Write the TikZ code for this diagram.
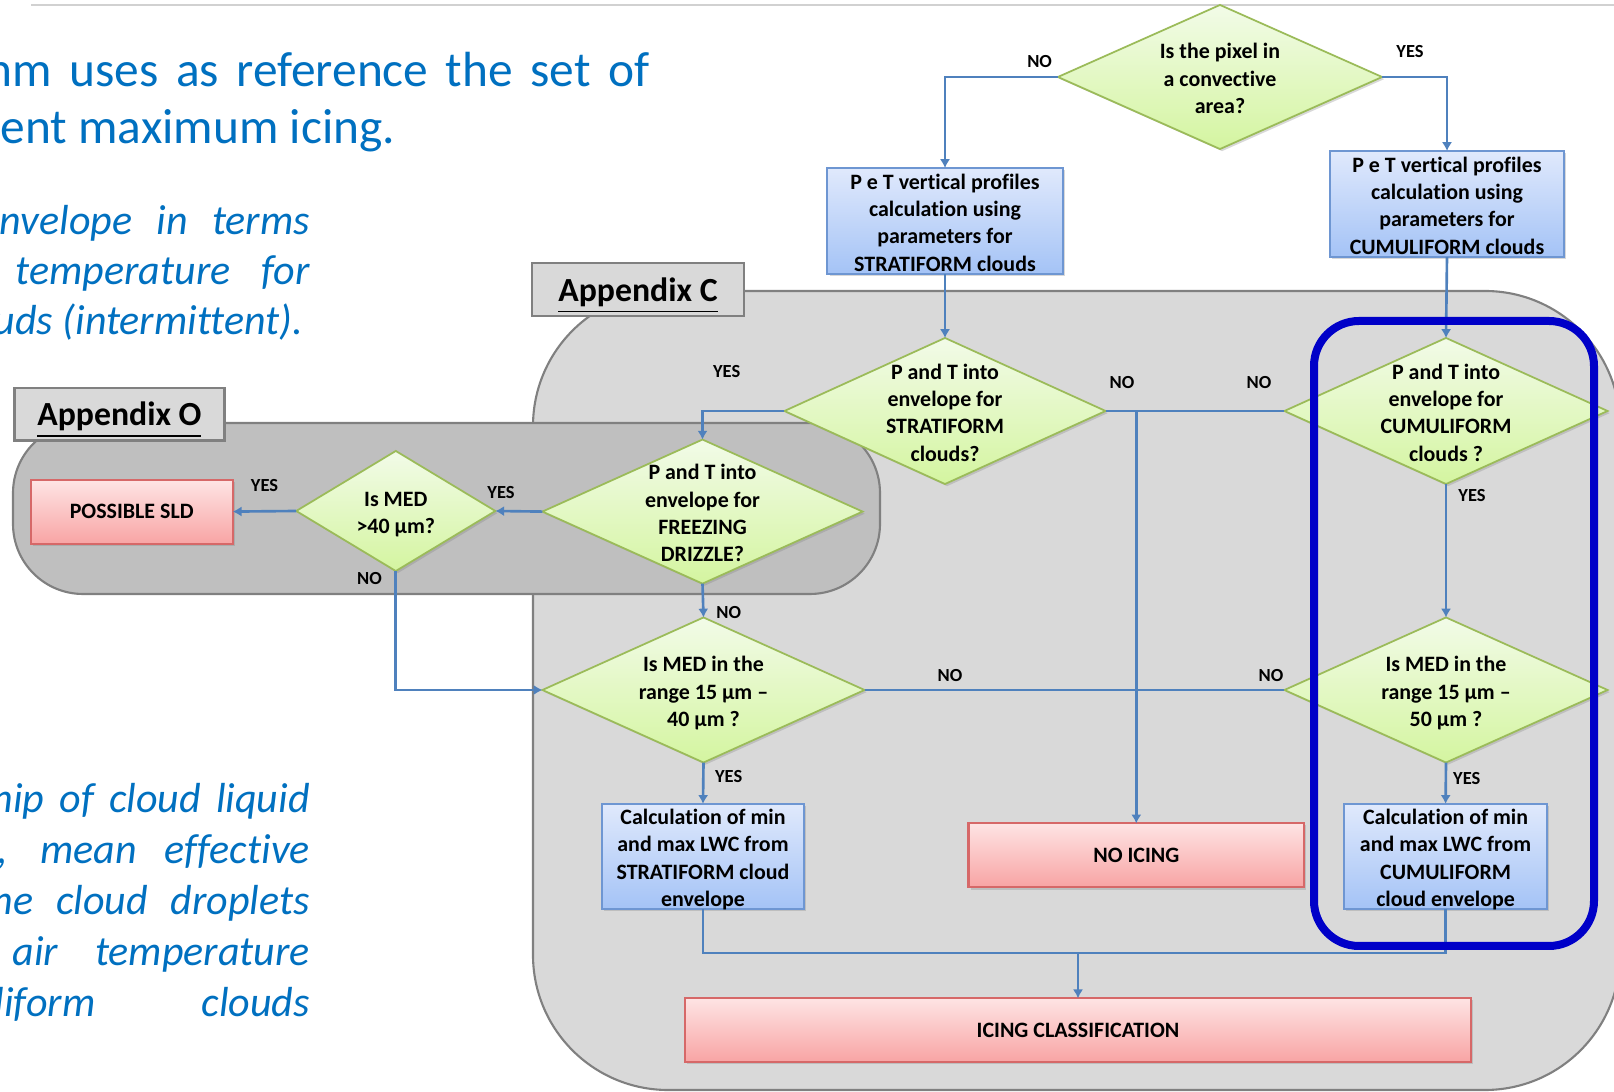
\documentclass[tikz,border=0pt]{standalone}
\usepackage{fontspec}
\setmainfont{Carlito}[Ligatures={NoCommon}, RawFeature={-liga;-dlig}]
\usepackage{tikz}
\usetikzlibrary{shapes.geometric}
\usetikzlibrary{arrows.meta}
\usetikzlibrary{shadows}
\definecolor{lnblue}{RGB}{79,129,189}
\definecolor{dgreen}{RGB}{155,187,89}
\definecolor{gtop}{RGB}{242,251,232}
\definecolor{gbot}{RGB}{212,245,160}
\definecolor{btop}{RGB}{224,233,252}
\definecolor{bbot}{RGB}{164,195,246}
\definecolor{bdraw}{RGB}{110,150,210}
\definecolor{rtop}{RGB}{254,228,228}
\definecolor{rbot}{RGB}{248,164,164}
\definecolor{rdraw}{RGB}{214,104,104}
\definecolor{apC}{RGB}{217,217,217}
\definecolor{apO}{RGB}{191,191,191}
\definecolor{apline}{RGB}{128,128,128}
\definecolor{txtblue}{RGB}{0,112,192}
\definecolor{hlblue}{RGB}{0,0,200}
\newcommand{\nodefont}{\fontsize{6.24}{7.8}\selectfont\bfseries}
\newcommand{\labfont}{\fontsize{5.25}{6}\selectfont\bfseries}
\newcommand{\ml}[2][2.55pt]{\makebox[0pt]{\smash{\raisebox{-#1}{\begin{tabular}{@{}c@{}}#2\end{tabular}}}}}
\tikzset{shd/.style = {drop shadow={shadow xshift=0.6pt, shadow yshift=-0.6pt, opacity=0.3}}}
\tikzset{dia/.style = {diamond, draw=dgreen, line width=0.5pt, top color=gtop, bottom color=gbot,
    inner sep=0, outer sep=0, font=\nodefont, shd}}
\tikzset{pbox/.style = {rectangle, draw=bdraw, line width=0.6pt, top color=btop, bottom color=bbot,
    inner sep=0, outer sep=0, font=\nodefont, shd}}
\tikzset{rbox/.style = {rectangle, draw=rdraw, line width=0.6pt, top color=rtop, bottom color=rbot,
    inner sep=0, outer sep=0, font=\nodefont, shd}}
\tikzset{tag/.style = {rectangle, draw=apline, line width=0.7pt, fill=apC, inner sep=0,
    font=\fontsize{9.6}{11}\selectfont\bfseries}}
\tikzset{lab/.style = {inner sep=0, font=\labfont}}
\tikzset{conn/.style = {draw=lnblue, line width=0.75pt}}
\tikzset{arr/.style = {conn, -{Latex[length=2.5pt, width=2.9pt]}}}
\tikzset{para/.style = {inner sep=0, text=txtblue, anchor=base west}}

\begin{document}
\begin{tikzpicture}[x=0.01cm, y=-0.01cm]
    \useasboundingbox (0,0) rectangle (1614,1092);
    \clip (0,0) rectangle (1614,1092);
    \fill [white] (0,0) rectangle (1614,1092);
    \draw [black!18, line width=0.6pt] (31,5) -- (1614,5);

    % text on the left, cut by the page edge
    \begin{scope}[font=\fontsize{14.05}{16}\selectfont]
      \node [para] (p1) at (-14,87) {\makebox[6.62cm][s]{hm uses as reference the set of}};
      \node [para, anchor=base east] (p2) at (396,144) {ent maximum icing.};
    \end{scope}
    \begin{scope}[font=\fontsize{11.95}{14}\selectfont\itshape]
      \node [para] (p3) at (-1,235) {\makebox[3.10cm][s]{nvelope in terms}};
      \node [para] (p4) at (15,285) {\makebox[2.94cm][s]{temperature for}};
      \node [para, anchor=base east] (p5) at (304,335) {uds (intermittent).};
      \node [para] (p6) at (-9,813) {\makebox[3.18cm][s]{hip of cloud liquid}};
      \node [para] (p7) at (-3,864) {\makebox[3.12cm][s]{, mean effective}};
      \node [para] (p8) at (-9,915) {\makebox[3.18cm][s]{he cloud droplets}};
      \node [para] (p9) at (12,966) {\makebox[2.97cm][s]{air temperature}};
      \node [para] (p10) at (-6,1017) {\makebox[3.15cm][s]{liform clouds}};
    \end{scope}

    % appendix areas
    \draw [fill=apC, draw=apline, line width=0.6pt, rounded corners=1.35cm] (533,291) rectangle (1620,1090);
    \node [tag, minimum width=2.12cm, minimum height=0.53cm] (tagC) at (638,289.5) {\ml[3.7pt]{\underline{Appendix C}}};
    \draw [fill=apO, draw=apline, line width=0.6pt, rounded corners=0.7cm] (13,423) rectangle (880,594);
    \node [tag, minimum width=2.10cm, minimum height=0.525cm] (tagO) at (119.4,414.3) {\ml[3.7pt]{\underline{Appendix O}}};

    \node [dia, minimum width=3.24cm, minimum height=1.44cm] (conv) at (1220,77) {\ml{Is the pixel in\\a convective\\area?}};
    \node [pbox, minimum width=2.35cm, minimum height=1.06cm] (profS) at (945,221) {\ml{P e T vertical profiles\\calculation using\\parameters for\\STRATIFORM clouds}};
    \node [pbox, minimum width=2.34cm, minimum height=1.06cm] (profC) at (1447,204) {\ml{P e T vertical profiles\\calculation using\\parameters for\\CUMULIFORM clouds}};
    \node [dia, minimum width=3.21cm, minimum height=1.46cm] (envS) at (945,411) {\ml{P and T into\\envelope for\\STRATIFORM\\clouds?}};
    \node [dia, minimum width=3.23cm, minimum height=1.46cm] (envC) at (1446,411) {\ml{P and T into\\envelope for\\CUMULIFORM\\clouds ?}};
    \node [dia, minimum width=3.20cm, minimum height=1.44cm] (envFZ) at (702.5,511.6) {\ml{P and T into\\envelope for\\FREEZING\\DRIZZLE?}};
    \node [dia, minimum width=1.99cm, minimum height=1.20cm] (med40) at (395.8,511) {\ml{Is MED\\>40 µm?}};
    \node [rbox, minimum width=2.02cm, minimum height=0.64cm] (sld) at (131.7,511.6) {POSSIBLE SLD};
    \node [dia, minimum width=3.22cm, minimum height=1.45cm] (rngS) at (703.5,690) {\ml{Is MED in the\\range 15 µm –\\40 µm ?}};
    \node [dia, minimum width=3.23cm, minimum height=1.45cm] (rngC) at (1446,690) {\ml{Is MED in the\\range 15 µm –\\50 µm ?}};
    \node [pbox, minimum width=2.02cm, minimum height=1.05cm] (lwcS) at (703,856.4) {\ml{Calculation of min\\and max LWC from\\STRATIFORM cloud\\envelope}};
    \node [pbox, minimum width=2.03cm, minimum height=1.05cm] (lwcC) at (1445.6,856.4) {\ml{Calculation of min\\and max LWC from\\CUMULIFORM\\cloud envelope}};
    \node [rbox, minimum width=3.355cm, minimum height=0.64cm] (noice) at (1136.3,855.4) {NO ICING};
    \node [rbox, minimum width=7.85cm, minimum height=0.64cm] (icecls) at (1078,1030.3) {ICING CLASSIFICATION};
    \coordinate (merge) at (1078,953);

    \draw [arr] (conv.west) -| (profS.north);
    \draw [arr] (conv.east) -| (profC.north);
    \draw [arr] (profS.south) -- (envS.north);
    \draw [arr] (profC.south) -- (envC.north);
    \draw [arr] (envS.west) -| (envFZ.north);
    \draw [conn] (envS.east) -- (envC.west);
    \draw [arr] (envS.east -| noice.north) -- (noice.north);
    \draw [arr] (envFZ.west) -- (med40.east);
    \draw [arr] (med40.west) -- (sld.east);
    \draw [arr] (med40.south) |- (rngS.west);
    \draw [arr] (envFZ.south) -- (rngS.north);
    \draw [arr] (envC.south) -- (rngC.north);
    \draw [conn] (rngS.east) -- (rngC.west);
    \draw [arr] (rngS.south) -- (lwcS.north);
    \draw [arr] (rngC.south) -- (lwcC.north);
    \draw [conn] (lwcS.south) |- (merge) -| (lwcC.south);
    \draw [arr] (merge) -- (icecls.north);

    \node [lab] (t1) at (1039.6,61.8) {NO};
    \node [lab] (t2) at (1410,51.5) {YES};
    \node [lab] (t3) at (726.7,371.6) {YES};
    \node [lab] (t4) at (1122,383) {NO};
    \node [lab] (t5) at (1259,383) {NO};
    \node [lab] (t6) at (1472,496) {YES};
    \node [lab] (t7) at (501,493) {YES};
    \node [lab] (t8) at (264.5,486) {YES};
    \node [lab] (t9) at (369.5,578.5) {NO};
    \node [lab] (t10) at (728.7,612.4) {NO};
    \node [lab] (t11) at (950,676) {NO};
    \node [lab] (t12) at (1271,676) {NO};
    \node [lab] (t13) at (728.7,777) {YES};
    \node [lab] (t14) at (1466.8,779) {YES};

    \draw [hlblue, line width=0.08cm, rounded corners=0.45cm] (1314,321) rectangle (1594,946);
\end{tikzpicture}
\end{document}
